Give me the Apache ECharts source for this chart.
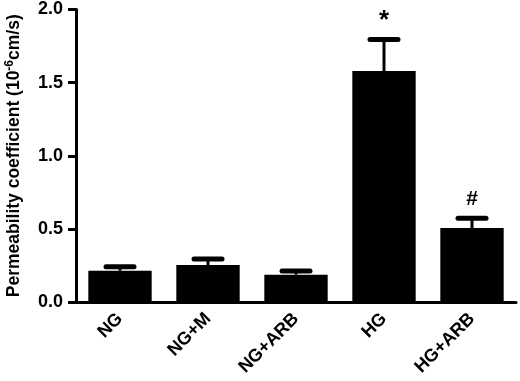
<!DOCTYPE html>
<html><head><meta charset="utf-8">
<script src="https://cdn.jsdelivr.net/npm/echarts@6/dist/echarts.min.js"></script>
<style>html,body{margin:0;padding:0;background:#fff}#c{width:520px;height:381px}</style>
</head><body><div id="c"></div>
<script>
const categories = ['NG', 'NG+M', 'NG+ARB', 'HG', 'HG+ARB'];
const means = [0.214, 0.253, 0.187, 1.579, 0.506];
const errorTops = [0.241, 0.294, 0.212, 1.795, 0.572];
const marks = ['', '', '', '*', '#'];
const yTicks = [0, 0.5, 1.0, 1.5, 2.0];

const font = '"Liberation Sans", Arial, sans-serif';
const chart = echarts.init(document.getElementById('c'), null, {renderer: 'canvas'});
chart.setOption({
  animation: false,
  grid: {left: 76, right: 4, top: 9.5, bottom: 79, containLabel: false, outerBoundsMode: 'none'},
  xAxis: {
    type: 'category', data: categories,
    axisLine: {lineStyle: {color: '#000', width: 3}},
    axisTick: {alignWithLabel: true, length: 9, lineStyle: {color: '#000', width: 3}},
    axisLabel: {rotate: 45, color: '#000', fontWeight: 'bold', fontSize: 18, fontFamily: font, margin: 14}
  },
  yAxis: {
    type: 'value', min: yTicks[0], max: yTicks[yTicks.length - 1], interval: 0.5,
    splitLine: {show: false},
    axisLine: {show: true, lineStyle: {color: '#000', width: 3}},
    axisTick: {show: true, length: 8, lineStyle: {color: '#000', width: 3}},
    axisLabel: {color: '#000', fontWeight: 'bold', fontSize: 18, fontFamily: font, margin: 13,
      formatter: v => v.toFixed(1)},
    name: '{a|Permeability coefficient (10}{s|-6}{a|cm/s)}',
    nameLocation: 'middle', nameRotate: 90, nameGap: 51,
    nameTextStyle: {
      rich: {
        a: {fontWeight: 'bold', fontSize: 17.5, fontFamily: font, color: '#000'},
        s: {fontWeight: 'bold', fontSize: 12, fontFamily: font, color: '#000', verticalAlign: 'top', padding: [0, 0, 9, 0]}
      }
    }
  },
  series: [
    {
      type: 'bar', data: means, barWidth: '72%',
      itemStyle: {color: '#000'}, z: 2
    },
    {
      type: 'custom', z: 3,
      data: categories.map((c, i) => [i, means[i], errorTops[i], marks[i]]),
      renderItem: function (params, api) {
        const base = api.coord([api.value(0), api.value(1)]);
        const top = api.coord([api.value(0), api.value(2)]);
        const half = 14;
        const children = [
          {type: 'line', shape: {x1: base[0], y1: base[1], x2: top[0], y2: top[1]}, style: {stroke: '#000', lineWidth: 3}},
          {type: 'line', shape: {x1: top[0] - half, y1: top[1], x2: top[0] + half, y2: top[1]}, style: {stroke: '#000', lineWidth: 5, lineCap: 'round'}}
        ];
        const m = marks[params.dataIndex];
        if (m) {
          children.push({type: 'text', style: {text: m, x: top[0], y: top[1] - (m === '*' ? 6 : 9), textAlign: 'center', textVerticalAlign: 'bottom',
            font: 'bold ' + (m === '*' ? 26 : 21) + 'px ' + font, fill: '#000'}});
        }
        return {type: 'group', children: children};
      }
    }
  ]
});
</script></body></html>
